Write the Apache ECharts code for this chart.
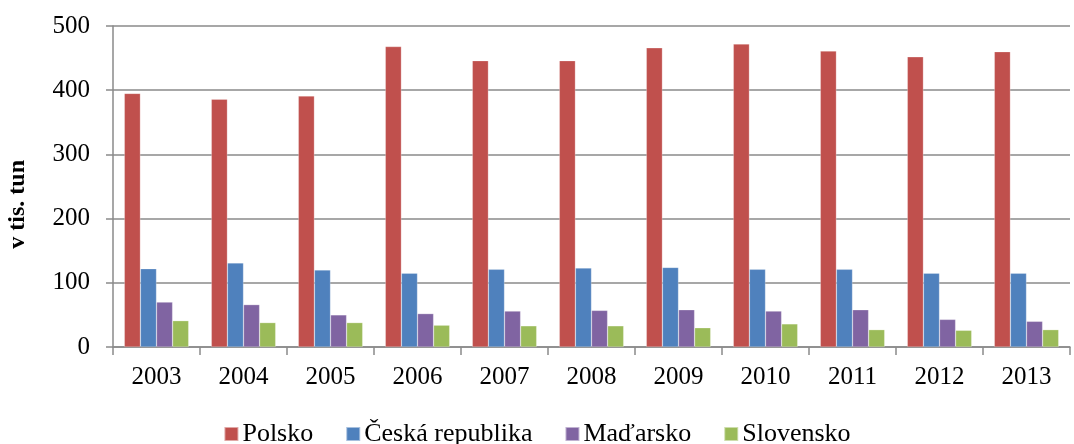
<!DOCTYPE html>
<html>
<head>
<meta charset="utf-8">
<script src="https://cdn.jsdelivr.net/npm/echarts@6/dist/echarts.min.js"></script>
<style>
  html, body { margin: 0; padding: 0; background: #fff; }
  #chart { width: 1074px; height: 444px; }
</style>
</head>
<body>
<div id="chart"></div>
<script>
var years = ['2003', '2004', '2005', '2006', '2007', '2008', '2009', '2010', '2011', '2012', '2013'];
var polsko = [395, 386, 391, 468, 446, 446, 466, 472, 461, 452, 460];
var cesko = [122, 131, 120, 115, 121, 123, 124, 121, 121, 115, 115];
var madarsko = [70, 66, 50, 52, 56, 57, 58, 56, 58, 43, 40];
var slovensko = [41, 38, 38, 34, 33, 33, 30, 36, 27, 26, 27];
var seriesNames = ['Polsko', 'Česká republika', 'Maďarsko', 'Slovensko'];
var yTicks = [0, 100, 200, 300, 400, 500];

var font = 'Liberation Serif, Times New Roman, serif';
var chart = echarts.init(document.getElementById('chart'));

function bar(name, data, color) {
    return {
        name: name,
        type: 'bar',
        data: data,
        barGap: '0%',
        barCategoryGap: '26%',
        itemStyle: { color: color, borderColor: 'rgba(255,255,255,0.5)', borderWidth: 0.5 }
    };
}

var option = {
    animation: false,
    textStyle: { fontFamily: font },
    grid: { left: 113, right: 4, top: 26, bottom: 97 },
    graphic: [{
        type: 'text',
        left: 6,
        top: 160,
        rotation: Math.PI / 2,
        style: { text: 'v tis. tun', font: 'bold 24px ' + font, fill: '#000' }
    }],
    legend: {
        top: 416,
        left: 'center',
        itemWidth: 14,
        itemHeight: 14,
        itemGap: 32,
        icon: 'rect',
        textStyle: { fontFamily: font, fontSize: 26, color: '#000', padding: [0, 0, 0, -1] },
        data: seriesNames
    },
    xAxis: {
        type: 'category',
        data: years,
        axisLine: { lineStyle: { color: '#8a8a8a', width: 1.5 } },
        axisTick: { show: true, length: 8, lineStyle: { color: '#8a8a8a', width: 1.5 } },
        axisLabel: { color: '#000', fontSize: 25, fontFamily: font, margin: 18 }
    },
    yAxis: {
        type: 'value',
        min: 0,
        max: 500,
        interval: 100,
        axisLine: { show: true, lineStyle: { color: '#8a8a8a', width: 1.5 } },
        axisTick: { show: true, length: 7, lineStyle: { color: '#8a8a8a', width: 1.5 } },
        axisLabel: {
            color: '#000', fontSize: 25, fontFamily: font, margin: 23,
            formatter: function (v) { return yTicks.indexOf(v) >= 0 ? String(v) : ''; }
        },
        splitLine: { lineStyle: { color: '#8a8a8a', width: 1.5 } }
    },
    series: [
        bar(seriesNames[0], polsko, '#C0504D'),
        bar(seriesNames[1], cesko, '#4F81BD'),
        bar(seriesNames[2], madarsko, '#8064A2'),
        bar(seriesNames[3], slovensko, '#9BBB59')
    ]
};
chart.setOption(option);
</script>
</body>
</html>
